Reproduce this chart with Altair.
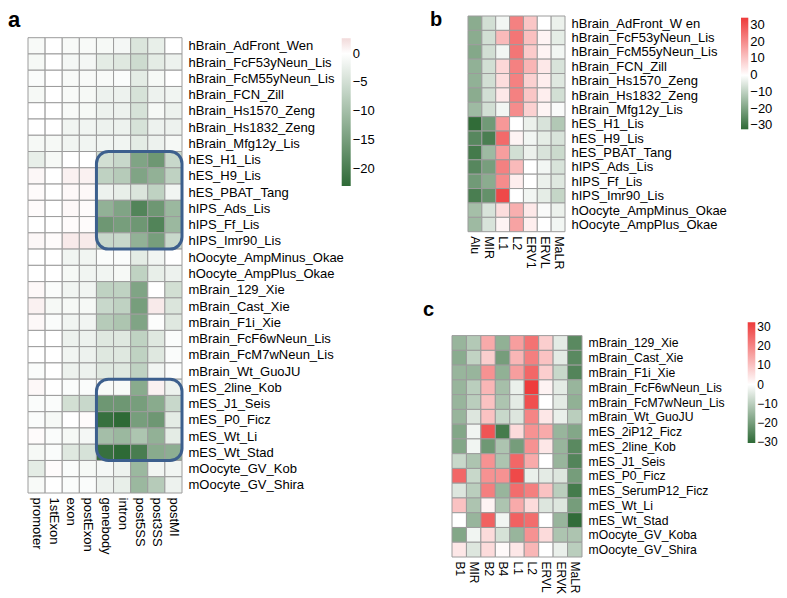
import altair as alt
import pandas as pd

FONT = "Liberation Sans"

# ---------------- panel a ----------------
A_COLS = ["promoter", "1stExon", "exon", "postExon", "genebody", "intron", "post5SS", "post3SS", "postMI"]
A_ROWS = [
    "hBrain_AdFront_Wen", "hBrain_FcF53yNeun_Lis", "hBrain_FcM55yNeun_Lis", "hBrain_FCN_Zill",
    "hBrain_Hs1570_Zeng", "hBrain_Hs1832_Zeng", "hBrain_Mfg12y_Lis", "hES_H1_Lis", "hES_H9_Lis",
    "hES_PBAT_Tang", "hIPS_Ads_Lis", "hIPS_Ff_Lis", "hIPS_Imr90_Lis", "hOocyte_AmpMinus_Okae",
    "hOocyte_AmpPlus_Okae", "mBrain_129_Xie", "mBrain_Cast_Xie", "mBrain_F1i_Xie",
    "mBrain_FcF6wNeun_Lis", "mBrain_FcM7wNeun_Lis", "mBrain_Wt_GuoJU", "mES_2line_Kob",
    "mES_J1_Seis", "mES_P0_Ficz", "mES_Wt_Li", "mES_Wt_Stad", "mOocyte_GV_Kob", "mOocyte_GV_Shira",
]
A_VALUES = [
    [-0.8, 0, -0.8, -0.8, -1, -1.2, -4, -2.5, 0],
    [-1, 0, -1.2, -1.2, -3, -3.5, -5.5, -3, -2],
    [-0.5, 0, -0.8, -0.8, -0.8, -0.5, -3, -1, 0],
    [-1, 0, -0.8, -1, -2, -2, -4.5, -2, -1.5],
    [0, 0, -0.8, -1, -2, -2, -4.5, -1, -2],
    [0, 0, -1.5, -1.5, -2, -2, -4.5, -2, -2],
    [-1, -1, -1.5, -1.5, -1.5, -1.5, -3, -2, -1],
    [-2.5, -1, 0, 0, -5, -6, -14, -16, -6],
    [0.6, 0, 1, 1, -7, -8, -14, -12, -7],
    [0.3, 0, 0.5, 0.5, -2, -2.5, -4, -7, -1.5],
    [0.3, 0, 0.5, 0.3, -12, -14, -19, -16, -11],
    [0, 0, 0.3, 0.3, -16, -15, -16, -19, -11],
    [0.6, 0.3, 1.5, 1.5, -6, -6, -12, -15, -6],
    [0, 0, -1.5, -1.5, -0.5, -0.5, -3, -1.5, 0],
    [0, 0, -1, -1.5, -1.5, -1, -7, -2.5, -2],
    [0.5, -0.5, -1.5, -1.5, -7, -7, -14, 0, -5],
    [1, -1, -1, -1, -6, -7, -15, 1.5, -4],
    [0.5, -0.5, -1.5, -1.5, -8, -9, -14, -0.3, -3.5],
    [0, 0, -2, -2, -3.5, -3.5, -7, -3.5, -0.5],
    [0, 0, -1.5, -2, -3.5, -3.5, -7, -3.5, -0.5],
    [-0.5, 0, -2, -2, -3.5, -3.5, -7, -1.5, -0.5],
    [0.5, 0, -0.5, -0.5, -0.8, -0.8, -13, 1, -2],
    [-0.5, -0.5, -5, -6, -16, -16, -15, -13, -6],
    [-0.5, -1, 0, 0.3, -22, -23, -15, -16, -3],
    [0.3, -0.5, -1, -1.2, -10, -11, -9, -12, -3],
    [-1, -0.5, -3.5, -4.5, -22, -23, -20, -13, -12.5],
    [-3, 0.3, -0.5, -1, -1.2, -2, -11, -1.5, -1.5],
    [-0.8, 0, -0.5, -0.5, -2, -2.5, -11, -8, -2],
]
A_BOX_ROWS = [("hES_H1_Lis", "hIPS_Imr90_Lis"), ("mES_2line_Kob", "mES_Wt_Stad")]
A_BOX_COLS = ("genebody", "postMI")
A_LEGEND_VALUES = [0, -5, -10, -15, -20]

# ---------------- panel b ----------------
B_COLS = ["Alu", "MIR", "L1", "L2", "ERV1", "ERVL", "MaLR"]
B_ROWS = [
    "hBrain_AdFront_W en", "hBrain_FcF53yNeun_Lis", "hBrain_FcM55yNeun_Lis", "hBrain_FCN_Zill",
    "hBrain_Hs1570_Zeng", "hBrain_Hs1832_Zeng", "hBrain_Mfg12y_Lis", "hES_H1_Lis", "hES_H9_Lis",
    "hES_PBAT_Tang", "hIPS_Ads_Lis", "hIPS_Ff_Lis", "hIPS_Imr90_Lis", "hOocyte_AmpMinus_Okae",
    "hOocyte_AmpPlus_Okae",
]
B_VALUES = [
    [-18, -7, -2, 22, 10, 0, -3],
    [-18, -7, 12, 24, 11, 2, -4],
    [-19, -7, -2, 24, 9, 2, -2],
    [-17, -7, 7, 22, 13, 4, -6],
    [-17, -7, 6, 22, 8, 3, -5],
    [-18, -7, 4, 22, 10, 3, -7],
    [-15, -7, -2, 20, 8, 2, -1],
    [-32, -22, 18, 0, -3, -6, -12],
    [-26, -28, 26, 2, -2, -4, -6],
    [-29, -15, 17, -7, -3, -6, -8],
    [-26, -21, 22, 12, 0, -2, -6],
    [-22, -18, 20, 3, 0, -3, -5],
    [-28, -24, 32, 0, -2, -4, -9],
    [-14, -6, 6, 14, 4, -1, -3],
    [-15, -6, 2, 16, 3, 0, -2],
]

# ---------------- panel c ----------------
C_COLS = ["B1", "MIR", "B2", "B4", "L1", "L2", "ERVL", "ERVK", "MaLR"]
C_ROWS = [
    "mBrain_129_Xie", "mBrain_Cast_Xie", "mBrain_F1i_Xie", "mBrain_FcF6wNeun_Lis",
    "mBrain_FcM7wNeun_Lis", "mBrain_Wt_GuoJU", "mES_2iP12_Ficz", "mES_2line_Kob", "mES_J1_Seis",
    "mES_P0_Ficz", "mES_SerumP12_Ficz", "mES_Wt_Li", "mES_Wt_Stad", "mOocyte_GV_Koba",
    "mOocyte_GV_Shira",
]
C_VALUES = [
    [-15, -11, 14, -16, 16, 23, 8, -4, -24],
    [-17, -9, 8, -20, 12, 21, 10, -4, -24],
    [-15, -15, 18, -16, 16, 25, 8, -8, -25],
    [-15, -10, 12, -13, -3, 32, 2, -4, -15],
    [-15, -10, 10, -12, -4, 29, 0, -4, -16],
    [-15, -5, 10, -8, -5, 20, 4, -3, -10],
    [-18, -2, 28, -27, 6, 18, 14, -15, -18],
    [-18, -2, -21, -12, -20, 18, 4, -15, -24],
    [-8, -12, 18, -12, 25, 14, 0, -15, -25],
    [25, -8, 18, 18, 30, -3, -4, -5, -20],
    [-5, -10, 21, -15, 24, 21, 10, -10, -27],
    [10, -12, 2, -12, 14, 6, -5, -5, -20],
    [0, -15, 26, -2, 26, 24, 0, -15, -30],
    [-18, -2, 6, -6, -15, 18, 6, -12, -12],
    [4, -5, 6, 1, 4, 12, 0, -3, -10],
]
BC_LEGEND_VALUES = [30, 20, 10, 0, -10, -20, -30]

GREEN = "#2e6a36"
RED = "#ee3a3a"
GRID = "#9c9c9c"
BOX = "#3c5f8d"


def cells(rows, cols, values):
    recs = []
    for i, r in enumerate(rows):
        for j, c in enumerate(cols):
            recs.append({"row": r, "col": c, "x": j, "x2": j + 1, "y": i, "y2": i + 1,
                         "v": values[i][j]})
    return pd.DataFrame(recs)


def lookup_expr(names):
    arr = "[" + ",".join("'" + n + "'" for n in names) + "]"
    return arr + "[floor(datum.value)]"


def panel_label(letter, px, py, size):
    return alt.Chart(pd.DataFrame({"t": [letter]})).mark_text(
        align="left", baseline="alphabetic", fontSize=size, fontWeight="bold",
        font=FONT, color="black"
    ).encode(text="t:N", x=alt.value(px), y=alt.value(py))


def heatmap(rows, cols, values, xdom, ydom, w, h, cdom, crange, lvals, lx, ly, llen,
            lthick, lfont, yfont, xfont, ypad, xpad):
    df = cells(rows, cols, values)
    xs = alt.Scale(domain=xdom, nice=False, zero=False)
    ys = alt.Scale(domain=ydom, nice=False, zero=False, reverse=True)
    xax = alt.Axis(
        values=[j + 0.5 for j in range(len(cols))], labelExpr=lookup_expr(cols),
        ticks=False, domain=False, grid=False, title=None, labelAngle=90,
        labelAlign="left", labelBaseline="middle", labelPadding=xpad,
        labelFontSize=xfont, labelFont=FONT, labelColor="black",
        labelOverlap=False, labelFlush=False)
    yax = alt.Axis(
        orient="right", values=[i + 0.5 for i in range(len(rows))],
        labelExpr=lookup_expr(rows), ticks=False, domain=False, grid=False,
        title=None, labelPadding=ypad, labelFontSize=yfont, labelFont=FONT,
        labelColor="black", labelOverlap=False, labelFlush=False,
        labelBaseline="middle")
    chart = alt.Chart(df).mark_rect(stroke=GRID, strokeWidth=1).encode(
        x=alt.X("x:Q", scale=xs, axis=xax),
        x2="x2:Q",
        y=alt.Y("y:Q", scale=ys, axis=yax),
        y2="y2:Q",
        color=alt.Color("v:Q", scale=alt.Scale(domain=cdom, range=crange, interpolate="rgb"),
                        legend=alt.Legend(
                            orient="none", legendX=lx, legendY=ly, direction="vertical",
                            gradientLength=llen, gradientThickness=lthick, title=None,
                            values=lvals, labelFontSize=lfont, labelFont=FONT,
                            labelColor="black", labelOffset=2, labelOverlap=False,
                            padding=0, gradientStrokeWidth=0)),
    ).properties(width=w, height=h)
    return chart, xs, ys, xax, yax


# panel a
a_heat, a_xs, a_ys, a_xax, a_yax = heatmap(
    A_ROWS, A_COLS, A_VALUES, [0, 9], [-1.3346, 28], 154, 477,
    [-23, 0, 2.67], [GREEN, "#ffffff", "#f2dada"], A_LEGEND_VALUES,
    313.7, 22.3, 147.7, 9, 13, 13, 13, 6, 4)

box_recs = []
for r0, r1 in A_BOX_ROWS:
    box_recs.append({"x": A_COLS.index(A_BOX_COLS[0]), "x2": A_COLS.index(A_BOX_COLS[1]) + 1,
                     "y": A_ROWS.index(r0), "y2": A_ROWS.index(r1) + 1})
a_boxes = alt.Chart(pd.DataFrame(box_recs)).mark_rect(
    fillOpacity=0, stroke=BOX, strokeWidth=3, cornerRadius=12
).encode(
    x=alt.X("x:Q", scale=a_xs, axis=a_xax), x2="x2:Q",
    y=alt.Y("y:Q", scale=a_ys, axis=a_yax), y2="y2:Q",
)
panel_a = alt.layer(a_heat, a_boxes, panel_label("a", -20, 10.6, 22))

# panel b
b_heat, _, _, _, _ = heatmap(
    B_ROWS, B_COLS, B_VALUES, [-1.1544, 7], [0, 15], 113, 215.7,
    [-32.4, 0, 34.4], [GREEN, "#ffffff", RED], BC_LEGEND_VALUES,
    289, 1.7, 111.6, 7.3, 13, 13, 12.5, 6, 4)
panel_b = alt.layer(b_heat, panel_label("b", -22, 9.5, 20))

# panel c
c_heat, _, _, _, _ = heatmap(
    C_ROWS, C_COLS, C_VALUES, [0, 9], [0, 15], 130, 221.4,
    [-30.4, 0, 32.4], [GREEN, "#ffffff", RED], BC_LEGEND_VALUES,
    295.7, -13.3, 120.6, 7.6, 12, 12.2, 12, 6, 4)
panel_c = alt.layer(c_heat, panel_label("c", -29, -19.3, 20))

right = alt.vconcat(panel_b, panel_c, spacing=103.6, bounds="flush").resolve_scale(
    x="independent", y="independent", color="independent")

chart = alt.hconcat(panel_a, right, spacing=270, bounds="flush").resolve_scale(
    x="independent", y="independent", color="independent"
).properties(padding=0).configure_view(strokeWidth=0)

chart.save("out.html", embed_options={"renderer": "svg", "actions": False})
